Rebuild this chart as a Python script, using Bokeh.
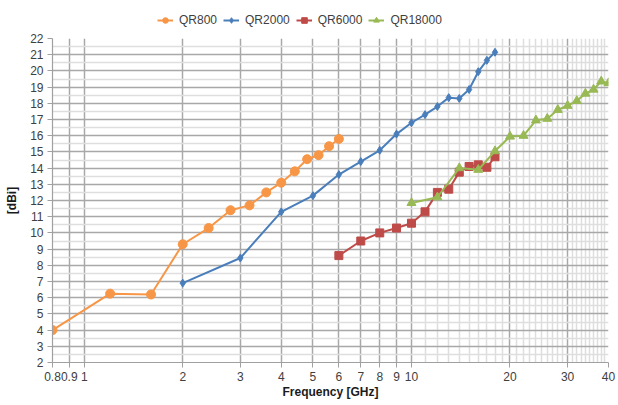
from bokeh.plotting import figure
from bokeh.layouts import column
from bokeh.models import Range1d, FixedTicker, Legend, LegendItem, CustomJSTickFormatter
from bokeh.embed import file_html
from bokeh.resources import INLINE

# ---- data ----
qr800_f = [0.8, 1.2, 1.6, 2.0, 2.4, 2.8, 3.2, 3.6, 4.0, 4.4, 4.8, 5.2, 5.6, 6.0]
qr800_g = [4.0, 6.25, 6.2, 9.3, 10.3, 11.4, 11.7, 12.5, 13.1, 13.8, 14.55, 14.8, 15.35, 15.8]
qr2000_f = [2, 3, 4, 5, 6, 7, 8, 9, 10, 11, 12, 13, 14, 15, 16, 17, 18]
qr2000_g = [6.9, 8.45, 11.3, 12.3, 13.6, 14.4, 15.1, 16.1, 16.8, 17.3, 17.8, 18.35, 18.3, 18.85, 19.95, 20.65, 21.15]
qr6000_f = [6, 7, 8, 9, 10, 11, 12, 13, 14, 15, 16, 17, 18]
qr6000_g = [8.6, 9.5, 10.0, 10.3, 10.6, 11.3, 12.5, 12.7, 13.75, 14.1, 14.2, 14.05, 14.7]
qr18000_f = [10, 12, 14, 16, 18, 20, 22, 24, 26, 28, 30, 32, 34, 36, 38, 40]
qr18000_g = [11.85, 12.2, 14.0, 13.9, 15.05, 15.95, 16.0, 16.95, 17.05, 17.6, 17.85, 18.15, 18.6, 18.85, 19.35, 19.25]

x_major = [0.8, 0.9, 1, 2, 3, 4, 5, 6, 7, 8, 9, 10, 20, 30, 40]
x_minor = [11, 12, 13, 14, 15, 16, 17, 18, 19, 21, 22, 23, 24, 25, 26, 27, 28, 29,
           31, 32, 33, 34, 35, 36, 37, 38, 39]
y_major = list(range(2, 23))
y_minor = [v + 0.5 for v in range(2, 22)]

FONT = "Liberation Sans"
TXT = "#404040"
W = 618

series = [
    ("QR800", qr800_f, qr800_g, "#F79646", "circle", 9),
    ("QR2000", qr2000_f, qr2000_g, "#4A7EBB", "diamond", 8),
    ("QR6000", qr6000_f, qr6000_g, "#BE4B48", "square", 8),
    ("QR18000", qr18000_f, qr18000_g, "#98B954", "triangle", 9),
]

# ---- main chart ----
p = figure(width=W, height=377, x_axis_type="log",
           x_range=Range1d(0.8, 40), y_range=Range1d(2, 22),
           output_backend="svg", toolbar_location=None,
           min_border_left=52, min_border_right=10, min_border_top=10, min_border_bottom=43)
p.outline_line_color = None
p.background_fill_color = "white"

xt = FixedTicker(ticks=x_major, minor_ticks=x_minor)
yt = FixedTicker(ticks=y_major, minor_ticks=y_minor)
p.xaxis.ticker = xt
p.yaxis.ticker = yt
p.xgrid.ticker = xt
p.ygrid.ticker = yt
p.xaxis.formatter = CustomJSTickFormatter(code="return tick.toString();")

for g in (p.xgrid, p.ygrid):
    g.grid_line_color = "#a8a8a8"
    g.grid_line_width = 1.5
    g.minor_grid_line_color = "#dedede"
    g.minor_grid_line_width = 1.5

for ax in (p.xaxis, p.yaxis):
    ax.axis_line_color = "#a0a0a0"
    ax.axis_line_width = 1.2
    ax.major_tick_line_color = "#a0a0a0"
    ax.major_tick_in = 0
    ax.major_tick_out = 5
    ax.minor_tick_line_color = None
    ax.major_label_text_font = FONT
    ax.major_label_text_font_size = "12px"
    ax.major_label_text_color = TXT
    ax.axis_label_text_font = FONT
    ax.axis_label_text_font_size = "12px"
    ax.axis_label_text_font_style = "bold"
    ax.axis_label_text_color = "#1a1a1a"

p.xaxis.axis_label = "Frequency [GHz]"
p.yaxis.axis_label = "[dBi]"
p.xaxis.major_label_standoff = 4
p.xaxis.axis_label_standoff = 1
p.yaxis.major_label_standoff = 4
p.yaxis.axis_label_standoff = 8

for name, f, g, c, m, s in series:
    p.line(f, g, line_color=c, line_width=2)
    p.scatter(f, g, marker=m, size=s, fill_color=c, line_color=c)

# ---- legend strip (same series; its ranges keep the marks out of view) ----
lg = figure(width=W, height=28, x_range=Range1d(1000, 1001), y_range=Range1d(1000, 1001),
            output_backend="svg", toolbar_location=None,
            x_axis_location=None, y_axis_location=None,
            min_border_left=0, min_border_right=0, min_border_top=0, min_border_bottom=0)
lg.outline_line_color = None
lg.xgrid.visible = False
lg.ygrid.visible = False

items = []
for name, f, g, c, m, s in series:
    l = lg.line(f, g, line_color=c, line_width=2)
    sc = lg.scatter(f, g, marker=m, size=s, fill_color=c, line_color=c)
    items.append(LegendItem(label=name, renderers=[l, sc]))

legend = Legend(items=items, orientation="horizontal", location=(105, 1),
                border_line_color=None, background_fill_alpha=0,
                label_text_font=FONT, label_text_font_size="12px", label_text_color=TXT,
                glyph_width=16, glyph_height=14, label_standoff=6, spacing=6,
                padding=2, margin=0, label_height=14)
lg.add_layout(legend, "center")

layout = column(lg, p, spacing=0)
open("out.html", "w").write(file_html(layout, INLINE))
